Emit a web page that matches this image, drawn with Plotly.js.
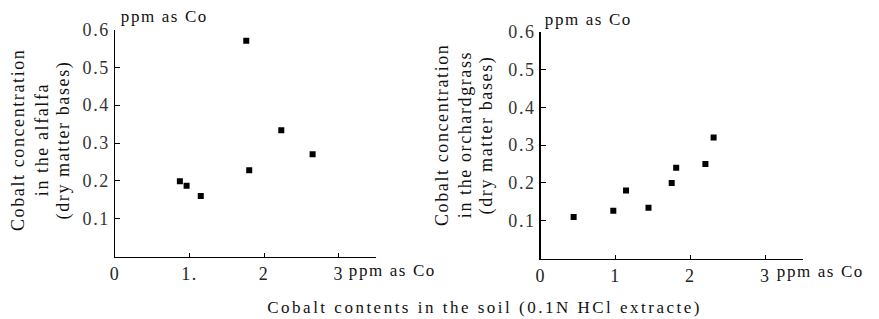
<!DOCTYPE html>
<html><head><meta charset="utf-8">
<script src="https://cdn.plot.ly/plotly-3.0.1.min.js"></script>
<style>html,body{margin:0;padding:0;background:#fff}#c{width:879px;height:319px}
#c svg text{letter-spacing:1.6px}
#c .annotation[data-index="10"] text{letter-spacing:2.5px}</style>
</head><body><div id="c"></div>
<script>
// Alfalfa panel
const alfalfaSoil = [0.87, 0.96, 1.15, 1.76, 1.80, 2.23, 2.65];
const alfalfaCo   = [0.199, 0.187, 0.160, 0.570, 0.228, 0.334, 0.270];
// Orchardgrass panel
const orchardSoil = [0.44, 0.97, 1.14, 1.44, 1.75, 1.81, 2.20, 2.31];
const orchardCo   = [0.110, 0.126, 0.180, 0.134, 0.200, 0.240, 0.250, 0.320];
const xTicks = [0, 1, 2, 3];
const xTickText = ['0', '1.', '2', '3'];
const xTickText2 = ['0', '1', '2', '3'];
const yTicks = [0.1, 0.2, 0.3, 0.4, 0.5, 0.6];
const yTickText = ['0.1', '0.2', '0.3', '0.4', '0.5', '0.6'];
const unitLabel = 'ppm as Co';
const yTitleA = ['Cobalt concentration', 'in the alfalfa', '(dry matter bases)'];
const yTitleB = ['Cobalt concentration', 'in the orchardgrass', '(dry matter bases)'];
const xTitle = 'Cobalt contents in the soil (0.1N HCl extracte)';

const F = 'Liberation Serif';
const mk = {symbol: 'square', size: 6, color: '#000'};
const data = [
  {x: alfalfaSoil, y: alfalfaCo, type: 'scatter', mode: 'markers', marker: mk, xaxis: 'x', yaxis: 'y', hoverinfo: 'none'},
  {x: orchardSoil, y: orchardCo, type: 'scatter', mode: 'markers', marker: mk, xaxis: 'x2', yaxis: 'y2', hoverinfo: 'none'}
];
function xa(dom, txt) {
  return {domain: dom, range: [0, 3.5], showgrid: false, zeroline: false, showline: true, linecolor: '#000', linewidth: 1.5,
    tickvals: xTicks, ticktext: txt, ticks: 'inside', ticklen: 4, tickcolor: '#000',
    tickfont: {family: F, size: 18, color: '#222'}, fixedrange: true};
}
function ya(dom, anchor) {
  return {domain: dom, range: [0, 0.6], anchor: anchor, showgrid: false, zeroline: false, showline: true, linecolor: '#000', linewidth: 1.5,
    tickvals: yTicks, ticktext: yTickText, ticks: 'inside', ticklen: 5, tickcolor: '#000',
    tickfont: {family: F, size: 18, color: '#333'}, fixedrange: true};
}
const W = 879, H = 319;
function ann(text, x, y, size, rot, xa_) {
  return {text: text, x: x / W, y: 1 - y / H, xref: 'paper', yref: 'paper', showarrow: false,
    xanchor: xa_ || 'center', yanchor: 'middle', textangle: rot || 0, font: {family: F, size: size, color: '#111'}};
}
const annotations = [
  ann(unitLabel, 126, 17, 17, 0, 'left'),
  ann(unitLabel, 550, 20, 17, 0, 'left'),
  ann(unitLabel, 354, 270, 17, 0, 'left'),
  ann(unitLabel, 782, 271, 17, 0, 'left'),
  ann(yTitleA[0], 18, 140, 18, -90),
  ann(yTitleA[1], 42, 140, 18, -90),
  ann(yTitleA[2], 63, 140, 18, -90),
  ann(yTitleB[0], 442, 135, 18, -90),
  ann(yTitleB[1], 465, 135, 18, -90),
  ann(yTitleB[2], 486, 135, 18, -90),
  ann(xTitle, 485, 307, 17, 0)
];
const layout = {
  width: W, height: H, margin: {l: 0, r: 0, t: 0, b: 0},
  paper_bgcolor: '#fff', plot_bgcolor: '#fff', showlegend: false,
  xaxis: Object.assign(xa([115 / W, 376 / W], xTickText), {anchor: 'y'}),
  yaxis: ya([1 - 256.5 / H, 1 - 29.5 / H], 'x'),
  xaxis2: Object.assign(xa([540.7 / W, 802.7 / W], xTickText2), {anchor: 'y2'}),
  yaxis2: ya([1 - 258.5 / H, 1 - 31.7 / H], 'x2'),
  annotations: annotations
};
Plotly.newPlot('c', data, layout, {staticPlot: true, displayModeBar: false});
</script></body></html>
